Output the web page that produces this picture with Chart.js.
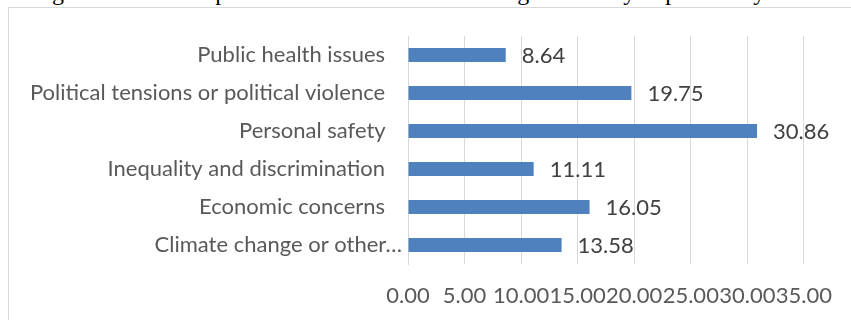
<!DOCTYPE html>
<html>
<head>
<meta charset="utf-8">
<script src="https://cdn.jsdelivr.net/npm/chart.js@4.4.1/dist/chart.umd.min.js"></script>
<style>
    html, body {
        margin: 0;
        padding: 0;
        width: 851px;
        height: 320px;
        overflow: hidden;
        background: #ffffff;
    }
    #caption {
        position: absolute;
        left: 32px;
        top: -20px;
        font-family: "Liberation Serif", "DejaVu Serif", serif;
        font-size: 24px;
        line-height: 24px;
        color: #000000;
        white-space: nowrap;
    }
    #frame {
        position: absolute;
        left: 8px;
        top: 7px;
        width: 860px;
        height: 330px;
        border: 1px solid #d9d9d9;
    }
    #chart {
        position: absolute;
        left: 0;
        top: 0;
    }
</style>
</head>
<body>
<div id="caption">Figure 17: How important are each of the following issues to you personally?</div>
<div id="frame">
    <canvas id="chart" width="842" height="312"></canvas>
</div>
<script>
    // ===========================================
    // DATA
    // ===========================================
    const categories = [
        'Public health issues',
        'Political tensions or political violence',
        'Personal safety',
        'Inequality and discrimination',
        'Economic concerns',
        'Climate change or other\u2026'
    ];
    const shares = [8.64, 19.75, 30.86, 11.11, 16.05, 13.58];
    const axisTicks = [0, 5, 10, 15, 20, 25, 30, 35];

    const FONT = 'Lato, "Open Sans", sans-serif';
    const GRID = '#d9d9d9';

    // ===========================================
    // VALUE LABELS (right of each bar)
    // ===========================================
    const valueLabels = {
        id: 'valueLabels',
        afterDatasetsDraw(chart) {
            const ctx = chart.ctx;
            const meta = chart.getDatasetMeta(0);
            ctx.save();
            ctx.font = '22px ' + FONT;
            ctx.fillStyle = '#404040';
            ctx.textAlign = 'left';
            ctx.textBaseline = 'middle';
            meta.data.forEach((bar, i) => {
                ctx.fillText(shares[i].toFixed(2), bar.x + 16, bar.y + 1);
            });
            ctx.restore();
        }
    };

    new Chart(document.getElementById('chart'), {
        type: 'bar',
        data: {
            labels: categories,
            datasets: [{
                data: shares,
                backgroundColor: '#4f81bd',
                borderWidth: 0,
                categoryPercentage: 1,
                barPercentage: 0.37
            }]
        },
        plugins: [valueLabels],
        options: {
            indexAxis: 'y',
            responsive: false,
            animation: false,
            devicePixelRatio: 1,
            layout: {
                padding: { top: 28, right: 43, bottom: 0, left: 0 }
            },
            plugins: {
                legend: { display: false },
                tooltip: { enabled: false }
            },
            scales: {
                x: {
                    min: 0,
                    max: 35,
                    afterBuildTicks(axis) {
                        axis.ticks = axisTicks.map(v => ({ value: v }));
                    },
                    afterFit(axis) {
                        axis.height = 56;
                    },
                    grid: {
                        color: GRID,
                        lineWidth: 1,
                        drawTicks: false
                    },
                    border: { display: false },
                    ticks: {
                        padding: 19,
                        color: '#595959',
                        font: { family: FONT, size: 22 },
                        maxRotation: 0,
                        autoSkip: false,
                        callback: v => Number(v).toFixed(2)
                    }
                },
                y: {
                    afterFit(axis) {
                        axis.width = 399;
                    },
                    grid: { display: false, drawTicks: false },
                    border: { display: true, color: GRID, width: 1 },
                    ticks: {
                        padding: 6,
                        color: '#595959',
                        font: { family: FONT, size: 22 },
                        autoSkip: false,
                        // Excel lets a truncated label run into the gap
                        callback: function(value) {
                            const label = this.getLabelForValue(value);
                            return label.endsWith('\u2026') ? label : label + '\u00a0\u00a0\u00a0';
                        }
                    }
                }
            }
        }
    });
</script>
</body>
</html>
